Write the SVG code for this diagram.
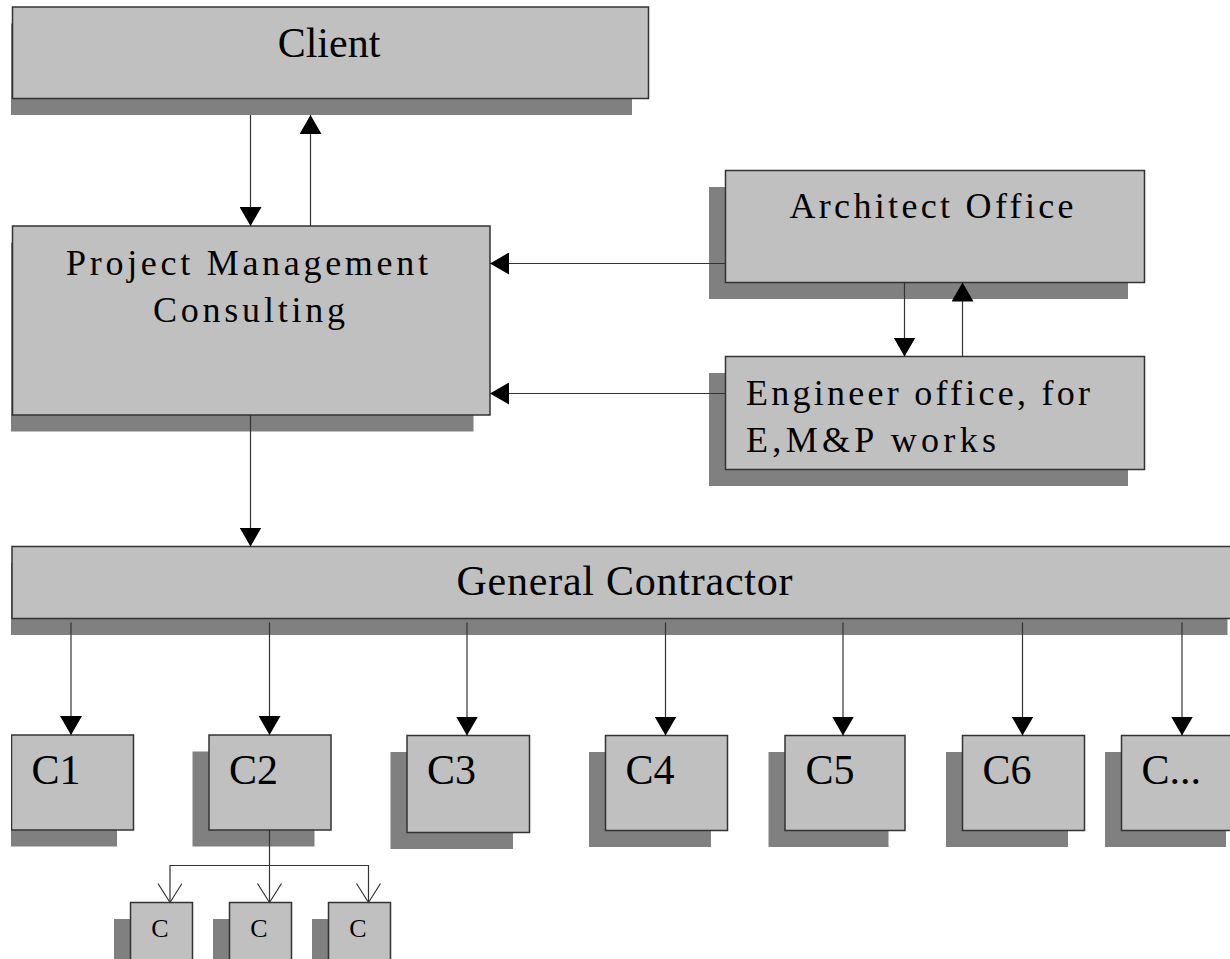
<svg xmlns="http://www.w3.org/2000/svg" width="1230" height="959" viewBox="0 0 1230 959">
<style>
.box{fill:#c0c0c0;stroke:#333;stroke-width:1.5}
.sh{fill:#808080}
.t{font-family:"Liberation Serif","Times New Roman",serif;fill:#000}
.big{font-size:42px}
.mid{font-size:36px}
.sm{font-size:26px}
.ln{fill:none;stroke:#333;stroke-width:1.2}
</style>
<defs>
<clipPath id="page"><rect x="11" y="0" width="1219" height="959"/></clipPath>
<marker id="arr" markerUnits="userSpaceOnUse" markerWidth="20" markerHeight="22" viewBox="0 0 20 22" refX="19" refY="11" orient="auto"><path d="M0,0 L19,11 L0,22 z" fill="#000"/></marker>
<marker id="open" markerUnits="userSpaceOnUse" markerWidth="22" markerHeight="26" viewBox="0 0 22 26" refX="20" refY="12" orient="auto"><path d="M1,0 L20,12 L1,24" fill="none" stroke="#333" stroke-width="1.2"/></marker>
</defs>
<rect width="1230" height="959" fill="#fff"/>
<g clip-path="url(#page)">
<g id="client">
<rect class="sh" x="-4" y="23.5" width="636" height="91.5"/>
<rect class="box" x="12.5" y="7" width="636" height="91.5"/>
<text class="t big" x="329" y="57" text-anchor="middle">Client</text>
</g>
<g id="pmc">
<rect class="sh" x="-4" y="242.5" width="477.5" height="189"/>
<rect class="box" x="12.5" y="226" width="477.5" height="189"/>
<text class="t mid" x="66" y="275" textLength="362" lengthAdjust="spacing">Project Management</text>
<text class="t mid" x="153" y="322" textLength="192" lengthAdjust="spacing">Consulting</text>
</g>
<g id="architect">
<rect class="sh" x="709" y="187" width="419" height="112"/>
<rect class="box" x="725.5" y="170.5" width="419" height="112"/>
<text class="t mid" x="789.5" y="217.5" textLength="284" lengthAdjust="spacing">Architect Office</text>
</g>
<g id="engineer">
<rect class="sh" x="709" y="373" width="419" height="113"/>
<rect class="box" x="725.5" y="356.5" width="419" height="113"/>
<text class="t mid" x="746" y="405" textLength="344" lengthAdjust="spacing">Engineer office, for</text>
<text class="t mid" x="746" y="452" textLength="250" lengthAdjust="spacing">E,M&amp;P works</text>
</g>
<g id="gc">
<rect class="sh" x="-4.5" y="563" width="1232" height="72"/>
<rect class="box" x="12" y="546.5" width="1232" height="72"/>
<text class="t big" x="456.5" y="595" textLength="336" lengthAdjust="spacing">General Contractor</text>
</g>
<g id="c1">
<rect class="sh" x="-5" y="751.5" width="122" height="95"/>
<rect class="box" x="11.5" y="735" width="122" height="95"/>
<text class="t big" x="31.5" y="784">C1</text>
</g>
<g id="c2">
<rect class="sh" x="192.5" y="751.5" width="122" height="95"/>
<rect class="box" x="209" y="735" width="122" height="95"/>
<text class="t big" x="229" y="784">C2</text>
</g>
<g id="c3">
<rect class="sh" x="390.5" y="752" width="122.5" height="97"/>
<rect class="box" x="407" y="735.5" width="122.5" height="97"/>
<text class="t big" x="427" y="784">C3</text>
</g>
<g id="c4">
<rect class="sh" x="589" y="752" width="122" height="95"/>
<rect class="box" x="605.5" y="735.5" width="122" height="95"/>
<text class="t big" x="625.5" y="784">C4</text>
</g>
<g id="c5">
<rect class="sh" x="768.5" y="752" width="120" height="95"/>
<rect class="box" x="785" y="735.5" width="120" height="95"/>
<text class="t big" x="805.5" y="784">C5</text>
</g>
<g id="c6">
<rect class="sh" x="946" y="752" width="122" height="95"/>
<rect class="box" x="962.5" y="735.5" width="122" height="95"/>
<text class="t big" x="982.5" y="784">C6</text>
</g>
<g id="cmore">
<rect class="sh" x="1105" y="752" width="121" height="95"/>
<rect class="box" x="1121.5" y="735.5" width="121" height="95"/>
<text class="t big" x="1141.5" y="784">C...</text>
</g>
<g id="s1">
<rect class="sh" x="114" y="919" width="62" height="80"/>
<rect class="box" x="130.5" y="902.5" width="62" height="80"/>
<text class="t sm" x="160" y="937" text-anchor="middle">C</text>
</g>
<g id="s2">
<rect class="sh" x="213" y="919" width="62" height="80"/>
<rect class="box" x="229.5" y="902.5" width="62" height="80"/>
<text class="t sm" x="259" y="937" text-anchor="middle">C</text>
</g>
<g id="s3">
<rect class="sh" x="312" y="919" width="62" height="80"/>
<rect class="box" x="328.5" y="902.5" width="62" height="80"/>
<text class="t sm" x="358" y="937" text-anchor="middle">C</text>
</g>
<g id="connectors">
<line class="ln" x1="250.5" y1="115" x2="250.5" y2="226" marker-end="url(#arr)"/>
<line class="ln" x1="310.5" y1="226" x2="310.5" y2="115" marker-end="url(#arr)"/>
<line class="ln" x1="725" y1="263.5" x2="490" y2="263.5" marker-end="url(#arr)"/>
<line class="ln" x1="725" y1="393.5" x2="490" y2="393.5" marker-end="url(#arr)"/>
<line class="ln" x1="904.5" y1="282.5" x2="904.5" y2="356.5" marker-end="url(#arr)"/>
<line class="ln" x1="962.5" y1="356.5" x2="962.5" y2="282.5" marker-end="url(#arr)"/>
<line class="ln" x1="250.5" y1="415" x2="250.5" y2="546.5" marker-end="url(#arr)"/>
<line class="ln" x1="71" y1="622.5" x2="71" y2="735" marker-end="url(#arr)"/>
<line class="ln" x1="269.5" y1="622.5" x2="269.5" y2="735" marker-end="url(#arr)"/>
<line class="ln" x1="467" y1="622.5" x2="467" y2="735.5" marker-end="url(#arr)"/>
<line class="ln" x1="665.5" y1="622.5" x2="665.5" y2="735.5" marker-end="url(#arr)"/>
<line class="ln" x1="843" y1="622.5" x2="843" y2="735.5" marker-end="url(#arr)"/>
<line class="ln" x1="1022.5" y1="622.5" x2="1022.5" y2="735.5" marker-end="url(#arr)"/>
<line class="ln" x1="1182" y1="622.5" x2="1182" y2="735.5" marker-end="url(#arr)"/>
<line class="ln" x1="269.5" y1="830" x2="269.5" y2="902.5" marker-end="url(#open)"/>
<path class="ln" d="M269.5,865.5 H170 V902.5" marker-end="url(#open)"/>
<path class="ln" d="M269.5,865.5 H368.5 V902.5" marker-end="url(#open)"/>
</g>
</g>
</svg>
